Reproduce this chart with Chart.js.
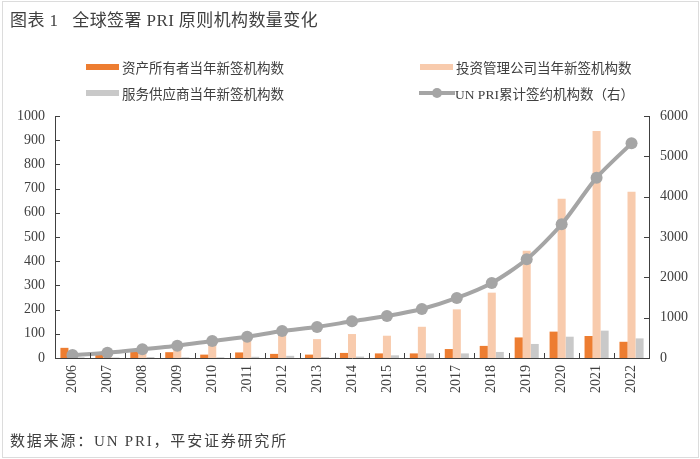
<!DOCTYPE html>
<html>
<head>
<meta charset="utf-8">
<script src="https://cdn.jsdelivr.net/npm/chart.js@4/dist/chart.umd.min.js"></script>
<style>
  body { margin: 0; background: #fff; }
  #wrap { position: relative; width: 700px; height: 459px; overflow: hidden; }
  #frame { position: absolute; left: 2px; top: 1px; width: 695px; height: 455px; border: 1px solid #dcdcdc; }
  #graphic { position: absolute; left: 0; top: 0; }
  .txt { position: absolute; color: #404040; font-family: "Liberation Serif", "Noto Sans CJK SC", serif; white-space: nowrap; }
  #title { left: 10px; top: 6px; font-size: 17px; letter-spacing: 0.4px; }
  #source { left: 10px; top: 429px; font-size: 15px; letter-spacing: 1.8px; }
  .leg { position: absolute; font-size: 13.5px; color: #404040; font-family: "Liberation Serif", "Noto Sans CJK SC", serif; white-space: nowrap; letter-spacing: 0px; }
  .sw { position: absolute; }
</style>
</head>
<body>
<div id="wrap">
  <div id="frame"></div>
  <canvas id="graphic" width="700" height="459"></canvas>
  <div class="txt" id="title">图表 1&nbsp;&nbsp;&nbsp;全球签署 PRI 原则机构数量变化</div>
  <div id="legend"></div>
  <div class="txt" id="source">数据来源：UN PRI，平安证券研究所</div>
</div>
<script>
const years = ["2006","2007","2008","2009","2010","2011","2012","2013","2014","2015","2016","2017","2018","2019","2020","2021","2022"];
const assetOwners = [42, 16, 27, 24, 14, 23, 17, 14, 21, 19, 19, 37, 50, 85, 109, 91, 67];
const investmentManagers = [8, 18, 35, 52, 62, 78, 102, 78, 99, 92, 129, 201, 270, 443, 658, 938, 687];
const serviceProviders = [3, 2, 4, 3, 3, 5, 9, 4, 6, 11, 19, 19, 25, 58, 88, 113, 81];
const cumulative = [74, 131, 215, 306, 421, 529, 669, 769, 909, 1041, 1215, 1488, 1860, 2447, 3315, 4471, 5323];

const leftTicks = { min: 0, max: 1000, step: 100 };
const rightTicks = { min: 0, max: 6000, step: 1000 };

const axisColor = "#404040";
const tickFont = { family: "Liberation Serif", size: 14 };

// small inside tick marks like the original
const insideTicks = {
  id: "insideTicks",
  afterDraw(chart) {
    const { ctx, chartArea, scales } = chart;
    ctx.save();
    ctx.strokeStyle = axisColor;
    ctx.lineWidth = 1;
    ctx.beginPath();
    scales.y.ticks.forEach((t, i) => {
      const y = Math.round(scales.y.getPixelForTick(i)) + 0.5;
      ctx.moveTo(chartArea.left, y);
      ctx.lineTo(chartArea.left + 5, y);
    });
    scales.y1.ticks.forEach((t, i) => {
      const y = Math.round(scales.y1.getPixelForTick(i)) + 0.5;
      ctx.moveTo(chartArea.right, y);
      ctx.lineTo(chartArea.right - 5, y);
    });
    for (let i = 1; i < years.length; i++) {
      const x = Math.round(scales.x.getPixelForValue(i - 0.5)) + 0.5;
      ctx.moveTo(x, chartArea.bottom);
      ctx.lineTo(x, chartArea.bottom - 5);
    }
    ctx.stroke();
    ctx.restore();
  }
};

const ctx = document.getElementById("graphic");

const chart = new Chart(ctx, {
  type: "bar",
  data: {
    labels: years,
    datasets: [{
      type: "line",
      label: "UN PRI累计签约机构数（右）",
      data: cumulative,
      yAxisID: "y1",
      borderColor: "#A5A5A5",
      backgroundColor: "#A5A5A5",
      borderWidth: 4,
      pointRadius: 6,
      pointBackgroundColor: "#A5A5A5",
      pointBorderWidth: 0,
      tension: 0.25,
      order: 0
    }, {
      label: "资产所有者当年新签机构数",
      data: assetOwners,
      backgroundColor: "#ED7D31",
      yAxisID: "y",
      order: 1
    }, {
      label: "投资管理公司当年新签机构数",
      data: investmentManagers,
      backgroundColor: "#F8CBAD",
      yAxisID: "y",
      order: 1
    }, {
      label: "服务供应商当年新签机构数",
      data: serviceProviders,
      backgroundColor: "#C9C9C9",
      yAxisID: "y",
      order: 1
    }]
  },
  options: {
    responsive: false,
    animation: false,
    layout: { padding: { top: 116, bottom: 61, left: 0, right: 0 } },
    datasets: { bar: { categoryPercentage: 0.69, barPercentage: 1.0 } },
    plugins: { legend: { display: false }, tooltip: { enabled: false } },
    scales: {
      x: {
        grid: { display: false, drawTicks: false },
        border: { color: axisColor, width: 1 },
        ticks: { minRotation: 90, maxRotation: 90, padding: 7, color: axisColor, font: tickFont, autoSkip: false },
        afterFit(s) { s.height = 40; }
      },
      y: {
        position: "left",
        min: leftTicks.min,
        max: leftTicks.max,
        grid: { display: false, drawTicks: false },
        border: { color: axisColor, width: 1 },
        ticks: { stepSize: leftTicks.step, padding: 10, color: axisColor, font: tickFont, callback: v => String(v) },
        afterFit(s) { s.width = 55; }
      },
      y1: {
        position: "right",
        min: rightTicks.min,
        max: rightTicks.max,
        grid: { display: false, drawTicks: false },
        border: { color: axisColor, width: 1 },
        ticks: { stepSize: rightTicks.step, padding: 11, color: axisColor, font: tickFont, callback: v => String(v) },
        afterFit(s) { s.width = 51; }
      }
    }
  },
  plugins: [insideTicks]
});

// legend built from the chart's datasets, laid out in two columns
const legendPos = [
  { ds: 1, x: 86, y: 67 },
  { ds: 2, x: 420, y: 67 },
  { ds: 3, x: 86, y: 93 },
  { ds: 0, x: 419, y: 93 }
];
const legendEl = document.getElementById("legend");
legendPos.forEach(p => {
  const d = chart.data.datasets[p.ds];
  if (d.type === "line") {
    const line = document.createElement("div");
    line.className = "sw";
    line.style.cssText = `left:${p.x}px;top:${p.y - 2}px;width:36px;height:4px;background:${d.borderColor};`;
    legendEl.appendChild(line);
    const dot = document.createElement("div");
    dot.className = "sw";
    dot.style.cssText = `left:${p.x + 13}px;top:${p.y - 5}px;width:10px;height:10px;border-radius:50%;background:${d.borderColor};`;
    legendEl.appendChild(dot);
  } else {
    const sw = document.createElement("div");
    sw.className = "sw";
    sw.style.cssText = `left:${p.x}px;top:${p.y - 3}px;width:33px;height:6px;background:${d.backgroundColor};`;
    legendEl.appendChild(sw);
  }
  const t = document.createElement("div");
  t.className = "leg";
  t.textContent = d.label;
  t.style.left = (p.x + 36) + "px";
  t.style.top = (p.y - 10) + "px";
  legendEl.appendChild(t);
});
</script>
</body>
</html>
